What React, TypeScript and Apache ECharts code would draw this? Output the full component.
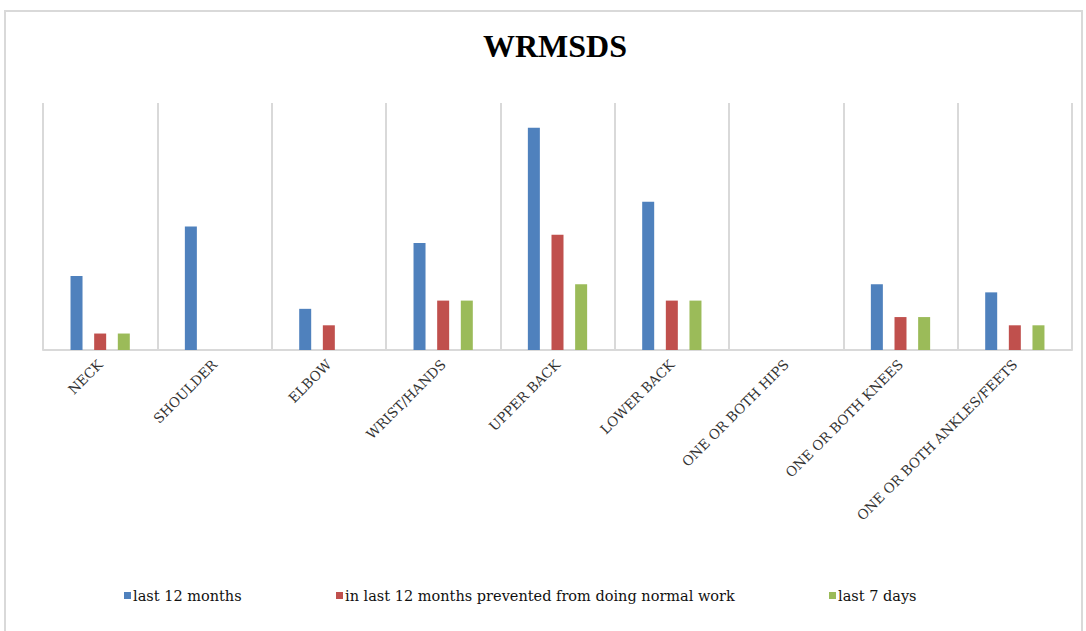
import React, { useEffect, useRef } from "react";
import * as echarts from "echarts";

const categories = [
  "NECK",
  "SHOULDER",
  "ELBOW",
  "WRIST/HANDS",
  "UPPER BACK",
  "LOWER BACK",
  "ONE OR BOTH HIPS",
  "ONE OR BOTH KNEES",
  "ONE OR BOTH ANKLES/FEETS",
];
const last12Months = [9, 15, 5, 13, 27, 18, 0, 8, 7];
const preventedWork = [2, 0, 3, 6, 14, 6, 0, 4, 3];
const last7Days = [2, 0, 0, 6, 8, 6, 0, 4, 3];
const seriesNames = [
  "last 12 months",
  "in last 12 months prevented from doing normal work",
  "last 7 days",
];
const colors = ["#4F81BD", "#C0504D", "#9BBB59"];

export default function App() {
  const ref = useRef<HTMLDivElement>(null);
  useEffect(() => {
    if (!ref.current) return;
    const chart = echarts.init(ref.current, null, { renderer: "svg" });
    const serif = "Liberation Serif";
    const wide = "DejaVu Serif";
    const mk = (name: string, data: number[], color: string) => ({
      name,
      type: "bar",
      data,
      barWidth: 12,
      barGap: "97%",
      itemStyle: { color },
    });
    const legendLefts = [119, 331, 824];
    chart.setOption({
      animation: false,
      backgroundColor: "#fff",
      textStyle: { fontFamily: serif },
      title: {
        text: "WRMSDS",
        left: 550,
        textAlign: "center",
        top: 25,
        textStyle: { fontFamily: serif, fontWeight: "bold", fontSize: 32, color: "#000" },
      },
      graphic: [
        {
          type: "rect",
          shape: { x: 5, y: 11, width: 1077, height: 630 },
          style: { fill: "none", stroke: "#D9D9D9", lineWidth: 2 },
          silent: true,
        },
      ],
      legend: seriesNames.map((n, i) => ({
        left: legendLefts[i],
        top: 583,
        itemWidth: 7,
        itemHeight: 7,
        itemGap: 4,
        icon: "rect",
        textStyle: { fontFamily: wide, fontSize: 14.5, color: "#111", padding: [0, 0, 0, -3] },
        data: [n],
      })),
      grid: { left: 43, right: 14, top: 103, bottom: 281 },
      xAxis: {
        type: "category",
        data: categories,
        axisLine: { lineStyle: { color: "#D9D9D9", width: 2 } },
        axisTick: { show: false },
        splitLine: { show: true, lineStyle: { color: "#D9D9D9", width: 2 } },
        axisLabel: {
          rotate: 45,
          interval: 0,
          margin: 12,
          fontFamily: wide,
          fontSize: 13.5,
          color: "#333",
        },
      },
      yAxis: {
        type: "value",
        min: 0,
        max: 30,
        show: false,
        splitLine: { show: false },
      },
      series: [
        mk(seriesNames[0], last12Months, colors[0]),
        mk(seriesNames[1], preventedWork, colors[1]),
        mk(seriesNames[2], last7Days, colors[2]),
      ],
    });
    return () => chart.dispose();
  }, []);
  return (
    <div
      ref={ref}
      style={{ position: "absolute", left: 0, top: 0, width: 1086, height: 631 }}
    />
  );
}
